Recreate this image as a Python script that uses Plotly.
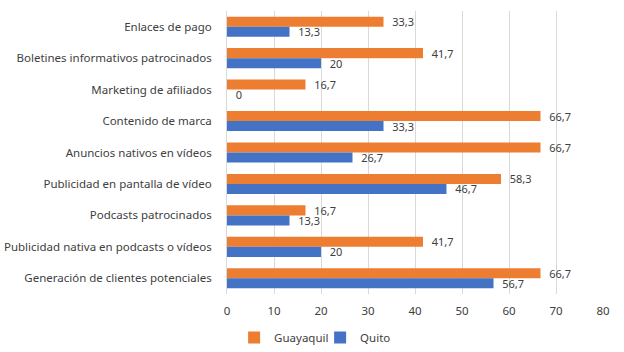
import plotly.graph_objects as go

categories = [
    "Enlaces de pago",
    "Boletines informativos patrocinados",
    "Marketing de afiliados",
    "Contenido de marca",
    "Anuncios nativos en vídeos",
    "Publicidad en pantalla de vídeo",
    "Podcasts patrocinados",
    "Publicidad nativa en podcasts o vídeos",
    "Generación de clientes potenciales",
]
guayaquil = [33.3, 41.7, 16.7, 66.7, 66.7, 58.3, 16.7, 41.7, 66.7]
quito = [13.3, 20, 0, 33.3, 26.7, 46.7, 13.3, 20, 56.7]
x_ticks = [0, 10, 20, 30, 40, 50, 60, 70, 80]


def fmt(v):
    """Excel-style label with a decimal comma, pushed off the bar end."""
    return "\u00a0\u00a0" + f"{v:g}".replace(".", ",")


FONT = "Noto Sans"
GREY = "#404040"

fig = go.Figure()
for name, vals, color in [("Guayaquil", guayaquil, "#ED7D31"),
                          ("Quito", quito, "#4472C4")]:
    fig.add_trace(go.Bar(
        y=categories, x=vals, name=name, orientation="h",
        marker=dict(color=color, line=dict(width=0)),
        text=[fmt(v) for v in vals], textposition="outside",
        constraintext="none",
        textfont=dict(family=FONT, size=11, color=GREY),
        cliponaxis=False,
    ))

fig.update_layout(
    width=624, height=352,
    margin=dict(l=227, r=21, t=11, b=58, autoexpand=False),
    barmode="group", bargap=0.36, bargroupgap=0,
    plot_bgcolor="white", paper_bgcolor="white",
    font=dict(family=FONT, size=11.5, color=GREY),
    showlegend=True,
    legend=dict(orientation="h", xref="container", x=0.513, xanchor="center",
                yref="container", y=0.0, yanchor="bottom",
                font=dict(size=11.5, color=GREY), itemwidth=30,
                entrywidth=41, entrywidthmode="pixels",
                traceorder="normal"),
)
fig.update_xaxes(range=[0, 80], tickvals=x_ticks, showgrid=True,
                 gridcolor="#D9D9D9", gridwidth=1, zeroline=False,
                 showline=False, ticks="", tickfont=dict(size=11.5),
                 ticklabelstandoff=8)
fig.update_yaxes(autorange="reversed", showgrid=False, ticks="",
                 showline=True, linecolor="#D9D9D9",
                 tickfont=dict(size=11.5), ticklabelstandoff=12)

# drop the browser's default body margin so the figure sits at (0, 0)
fig.write_html("out.html", config={"displayModeBar": False},
               post_script="document.body.style.margin='0';")
